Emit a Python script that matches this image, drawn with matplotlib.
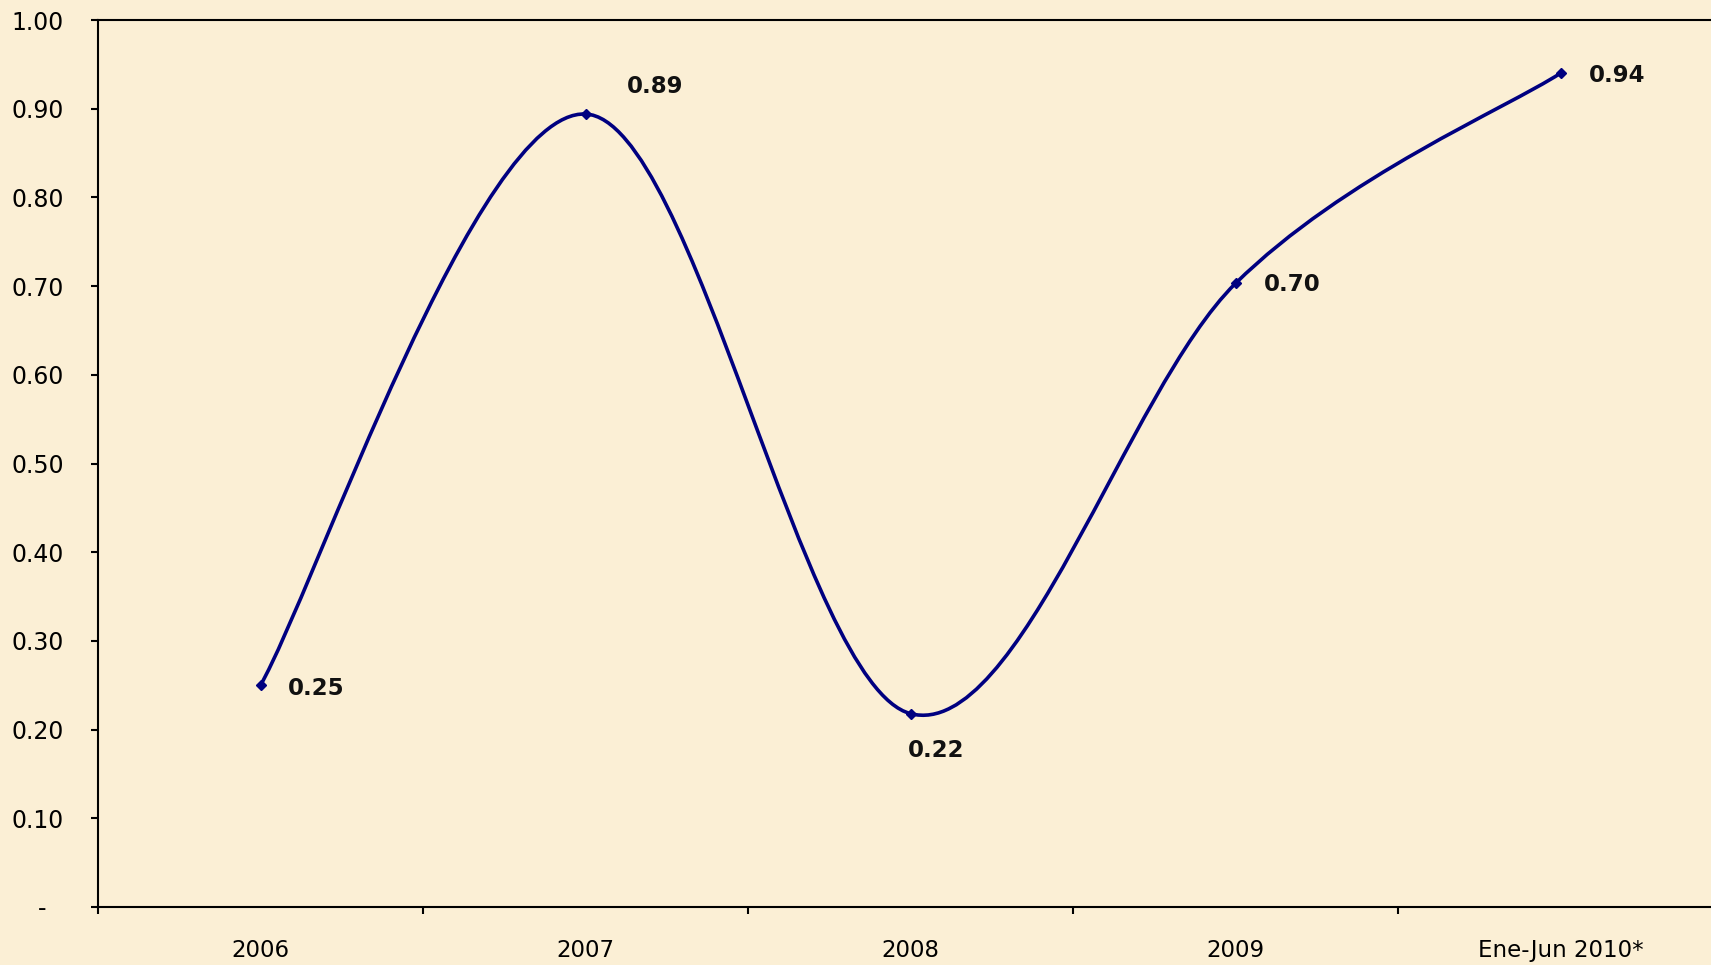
import matplotlib
matplotlib.use("Agg")
import matplotlib.pyplot as plt
import numpy as np
from matplotlib.path import Path
from matplotlib.patches import PathPatch

years = ["2006", "2007", "2008", "2009", "Ene-Jun 2010*"]
values = [0.25, 0.894, 0.218, 0.703, 0.94]
value_labels = ["0.25", "0.89", "0.22", "0.70", "0.94"]
# label offsets in pixels (ha, va) per point
label_offsets = [(27, -3), (41, 28), (26, -37), (28, -1), (28, -2)]
label_align = [("left", "center"), ("left", "center"), ("center", "center"),
               ("left", "center"), ("left", "center")]

yticks = np.arange(0, 1.01, 0.1)
ytick_labels = ["-\u2007\u200a"] + [f"{v:.2f}" for v in yticks[1:]]

BG = "#FBEFD5"
NAVY = "#000080"

plt.rcParams["font.family"] = ["DejaVu Sans"]

fig = plt.figure(figsize=(17.11, 9.65), dpi=100, facecolor=BG)
ax = fig.add_axes([98 / 1711, 58 / 965, 1625 / 1711, 887 / 965])
ax.set_facecolor(BG)

x = np.arange(len(values), dtype=float)
y = np.array(values)

# Excel-style smoothed line: cubic bezier with catmull-rom control points
xe = np.concatenate([[x[0]], x, [x[-1]]])
ye = np.concatenate([[y[0]], y, [y[-1]]])
verts = [(x[0], y[0])]
codes = [Path.MOVETO]
for i in range(len(x) - 1):
    j = i + 1
    c1 = (xe[j] + (xe[j + 1] - xe[j - 1]) / 6, ye[j] + (ye[j + 1] - ye[j - 1]) / 6)
    c2 = (xe[j + 1] - (xe[j + 2] - xe[j]) / 6, ye[j + 1] - (ye[j + 2] - ye[j]) / 6)
    verts += [c1, c2, (x[i + 1], y[i + 1])]
    codes += [Path.CURVE4] * 3
ax.add_patch(PathPatch(Path(verts, codes), facecolor="none", edgecolor=NAVY,
                       lw=2.6, zorder=3, capstyle="round"))
ax.plot(x, y, linestyle="none", marker="D", markersize=5.5, color=NAVY, zorder=4)

for xi, yi, lab, off, al in zip(x, y, value_labels, label_offsets, label_align):
    ax.annotate(lab, (xi, yi), xytext=off, textcoords="offset pixels",
                ha=al[0], va=al[1], fontsize=16.5, fontweight="bold", color="#111111")

ax.set_xlim(-0.5, len(values) - 0.5)
ax.set_ylim(0, 1.0)
ax.set_xticks(np.arange(-0.5, len(values), 1.0))
ax.set_xticklabels([])
ax.set_xticks(x, minor=True)
ax.set_xticklabels(years, minor=True, fontsize=16.5)
ax.tick_params(axis="x", which="major", direction="out", length=5, width=1.5)
ax.tick_params(axis="x", which="minor", length=0, pad=23)
ax.set_yticks(yticks)
ax.set_yticklabels(ytick_labels, fontsize=17)
ax.tick_params(axis="y", direction="out", length=5, width=1.5, pad=19.5)

for side in ["left", "bottom", "top", "right"]:
    ax.spines[side].set_linewidth(1.5)
    ax.spines[side].set_color("black")

fig.savefig("out.png", dpi=100, facecolor=BG)
